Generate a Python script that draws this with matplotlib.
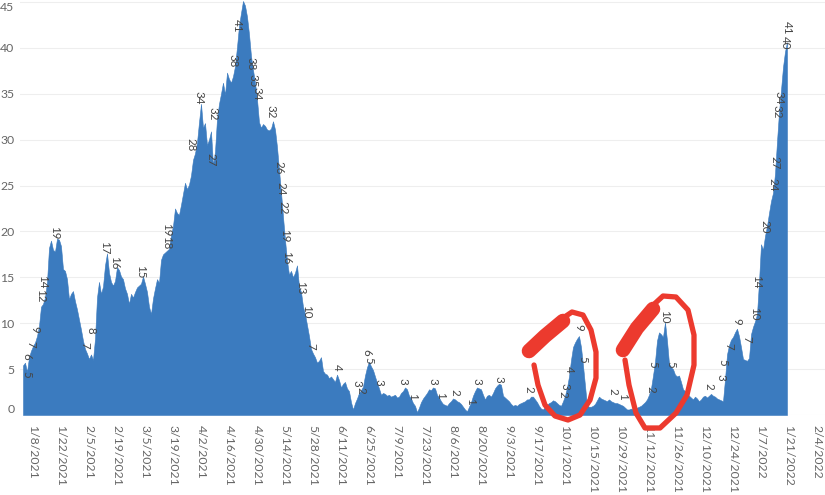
import pandas as pd
import matplotlib
matplotlib.use("Agg")
from matplotlib import pyplot as plt
from matplotlib.lines import Line2D

plt.rcParams['font.family'] = ['Lato', 'DejaVu Sans']

# daily values, 2021-01-03 .. 2022-01-20, one list per month
jan21 = [5.4, 5.7, 4.7, 6.3, 7.0, 7.5, 7.9, 8.6, 9.7, 11.8, 12.1, 12.8, 14.5, 18.2, 19.0,
         18.0, 17.8, 19.2, 19.1, 18.4, 15.9, 15.7, 14.8, 12.6, 13.2, 13.5, 12.4, 11.5, 10.4]
feb21 = [9.3, 8.1, 7.2, 6.7, 6.1, 6.6, 6.0, 8.3, 12.8, 14.5, 13.2, 14.0, 16.3, 17.6,
         15.5, 14.5, 14.1, 14.6, 16.1, 15.8, 15.1, 14.8, 13.8, 13.2, 12.1, 13.2, 12.8, 13.4]
mar21 = [13.9, 14.1, 14.3, 15.1, 14.3, 13.4, 11.8, 11.0, 12.7, 13.8, 14.8, 14.4, 16.9, 17.5,
         17.7, 17.9, 18.1, 19.6, 20.6, 22.5, 22.0, 21.8, 22.9, 24.1, 25.3, 24.6, 25.1, 26.1,
         27.8, 28.5, 29.7]
apr21 = [31.9, 33.9, 31.3, 31.8, 29.4, 30.0, 30.9, 27.2, 28.7, 32.3, 33.9, 35.0, 36.2, 34.9,
         37.3, 36.6, 36.2, 36.9, 38.0, 40.1, 42.4, 43.8, 45.1, 44.6, 43.4, 41.5, 39.1, 37.6,
         36.2, 34.4]
may21 = [31.9, 31.3, 31.7, 31.5, 31.1, 31.0, 31.2, 32.0, 31.1, 29.2, 26.7, 24.3, 21.6, 19.1,
         16.8, 15.3, 15.7, 15.0, 15.5, 16.3, 14.0, 13.4, 11.8, 11.0, 9.8, 8.6, 7.2, 6.7, 6.3,
         5.7, 5.9]
jun21 = [6.3, 4.8, 4.5, 4.4, 4.0, 4.2, 3.9, 3.6, 4.4, 3.8, 3.0, 3.4, 3.6, 2.9, 2.6, 1.4, 0.6,
         1.3, 1.8, 2.4, 2.7, 3.1, 4.3, 5.2, 5.8, 5.3, 4.9, 4.2, 3.5, 2.9]
jul21 = [2.2, 2.4, 2.3, 2.1, 2.2, 2.0, 2.1, 2.2, 1.9, 2.0, 2.4, 2.6, 3.0, 2.8, 2.1, 1.8, 1.3,
         1.0, 0.3, 0.8, 1.4, 1.8, 2.1, 2.4, 2.8, 2.7, 3.0, 2.9, 2.2, 1.9, 1.5]
aug21 = [1.2, 1.1, 1.0, 1.3, 1.5, 1.8, 1.7, 1.5, 1.4, 1.2, 0.9, 0.6, 0.4, 0.9, 1.4, 2.1, 2.6,
         3.0, 2.9, 2.8, 2.2, 1.7, 2.1, 2.2, 2.0, 2.4, 2.9, 3.2, 3.4, 3.3, 2.1]
sep21 = [1.9, 1.7, 1.5, 1.2, 1.0, 1.1, 1.0, 1.2, 1.3, 1.4, 1.5, 1.7, 1.7, 2.0, 2.0, 1.7, 1.4,
         1.0, 0.7, 0.6, 0.9, 1.1, 1.3, 1.4, 1.6, 1.5, 1.3, 1.1, 1.0, 1.5]
oct21 = [2.1, 3.0, 4.2, 6.0, 7.4, 7.9, 8.3, 8.6, 7.4, 5.4, 3.2, 1.0, 0.9, 0.9, 1.0, 1.2, 1.6,
         2.0, 1.8, 1.7, 1.6, 1.5, 1.7, 1.5, 1.4, 1.3, 1.3, 1.2, 1.1, 1.0, 0.8]
nov21 = [0.6, 0.6, 0.7, 0.6, 0.7, 0.8, 0.9, 1.0, 1.2, 1.4, 1.7, 2.2, 2.9, 4.3, 5.8, 8.1, 9.0,
         8.8, 8.5, 10.1, 8.1, 5.6, 5.2, 5.0, 4.4, 4.2, 4.3, 3.6, 2.8, 2.6]
dec21 = [2.3, 2.1, 1.9, 1.7, 2.0, 1.8, 1.5, 1.7, 2.0, 2.1, 1.9, 2.1, 2.3, 2.1, 2.0, 1.8, 1.7,
         1.6, 1.5, 3.9, 6.6, 7.6, 8.2, 8.5, 9.0, 9.4, 8.6, 7.4, 6.1, 6.0, 5.9]
jan22 = [6.2, 8.8, 9.6, 10.2, 11.0, 14.5, 18.6, 18.0, 19.5, 20.6, 22.0, 23.3, 24.2, 26.3,
         29.8, 33.0, 35.4, 37.9, 39.6, 40.6]

start_date = "2021-01-03"

# mark labels shown on the chart
label_dates = ["2021-01-05", "2021-01-05", "2021-01-07", "2021-01-09", "2021-01-12",
               "2021-01-13", "2021-01-19", "2021-02-03", "2021-02-06", "2021-02-13",
               "2021-02-18", "2021-03-03", "2021-03-16", "2021-03-16", "2021-03-28",
               "2021-04-01", "2021-04-07", "2021-04-08", "2021-04-18", "2021-04-20",
               "2021-04-27", "2021-04-28", "2021-04-30", "2021-05-07", "2021-05-11",
               "2021-05-12", "2021-05-13", "2021-05-14", "2021-05-15", "2021-05-22",
               "2021-05-25", "2021-05-27", "2021-06-09", "2021-06-19", "2021-06-21",
               "2021-06-24", "2021-06-25", "2021-06-30", "2021-07-12", "2021-07-17",
               "2021-07-27", "2021-07-31", "2021-08-07", "2021-08-15", "2021-08-18",
               "2021-08-29", "2021-09-13", "2021-09-30", "2021-10-01", "2021-10-03",
               "2021-10-08", "2021-10-10", "2021-10-25", "2021-10-30", "2021-11-13",
               "2021-11-14", "2021-11-20", "2021-11-23", "2021-12-12", "2021-12-18",
               "2021-12-19", "2021-12-22", "2021-12-26", "2021-12-31", "2022-01-04",
               "2022-01-05", "2022-01-09", "2022-01-13", "2022-01-14", "2022-01-15",
               "2022-01-16", "2022-01-19", "2022-01-20"]
label_levels = [4.4, 6.4, 7.7, 9.3, 13.0, 14.5, 19.8, 7.6, 9.2, 18.2,
                16.6, 15.6, 20.2, 18.8, 29.4, 34.6, 27.8, 32.8, 38.6, 42.4,
                38.3, 36.4, 35.0, 33.0, 26.9, 24.7, 22.6, 19.5, 17.1, 13.9,
                11.2, 7.5, 5.2, 3.4, 2.7, 6.8, 6.0, 3.5, 3.7, 2.0,
                3.7, 2.1, 2.5, 1.5, 3.7, 3.9, 2.8, 2.3, 3.1, 5.0,
                9.5, 6.1, 2.6, 2.0, 2.8, 5.5, 10.7, 5.5, 3.1, 4.1,
                5.7, 7.5, 10.2, 8.2, 11.0, 14.5, 20.5, 25.1, 27.5, 33.0,
                34.6, 40.6, 42.2]
label_texts = ["5", "6", "7", "9", "12", "14", "19", "7", "8", "17",
               "16", "15", "19", "18", "28", "34", "27", "32", "38", "41",
               "38", "35", "34", "32", "26", "24", "22", "19", "16", "13",
               "10", "7", "4", "3", "2", "6", "5", "3", "3", "1",
               "3", "1", "2", "1", "3", "3", "2", "2", "3", "4",
               "9", "5", "2", "1", "2", "5", "10", "5", "2", "3",
               "5", "7", "9", "7", "10", "14", "20", "24", "27", "32",
               "34", "40", "41"]

# hand drawn red marks on the screenshot (pixel coords)
red_thick = [[(529, 351), (545, 336), (563, 321)],
             [(623, 350), (637, 328), (653, 309)]]
red_loops = [[(560, 320), (572, 312), (583, 315), (591, 330), (596, 352), (596, 378),
              (590, 400), (580, 415), (568, 420), (555, 416), (545, 405), (538, 385), (534, 365)],
             [(650, 308), (663, 296), (676, 297), (688, 310), (694, 335), (694, 365),
              (687, 395), (676, 413), (660, 428), (645, 428), (636, 413), (629, 385), (625, 360)]]

values = jan21 + feb21 + mar21 + apr21 + may21 + jun21 + jul21 + aug21 + sep21 + oct21 + nov21 + dec21 + jan22
dates = pd.date_range(start_date, periods=len(values), freq="D")

W, H = 825, 495
fig = plt.figure(figsize=(W / 100, H / 100), dpi=100)
ax = fig.add_axes([20 / W, 80 / H, 805 / W, 414 / H])

blue = "#3b7bbf"
ax.fill_between(dates, values, 0, color=blue, lw=0.4, edgecolor=blue, zorder=2)

for d, lv, t in zip(label_dates, label_levels, label_texts):
    ax.text(pd.Timestamp(d), lv, t, rotation=-90, ha="center", va="center",
            fontsize=8.3, color="#454545", zorder=3)

t0 = pd.Timestamp(start_date)
ax.set_xlim(t0 - pd.Timedelta(days=1.5), t0 + pd.Timedelta(days=401))
ax.set_ylim(0, 45.1)

ax.set_yticks(range(0, 50, 5))
ax.tick_params(axis="y", length=0, pad=4, labelsize=8.8, labelcolor="#666666")
ylabels = ax.get_yticklabels()
ylabels[0].set_va("bottom")
ylabels[-1].set_va("top")
ax.grid(axis="y", color="#eeeeee", lw=0.8, zorder=0)
ax.set_axisbelow(True)

xt = pd.date_range("2021-01-08", "2022-02-04", freq="14D")
ax.set_xticks(xt)
ax.set_xticklabels([f"{d.month}/{d.day}/{d.year}" for d in xt], rotation=-90,
                   ha="center", va="top")
ax.tick_params(axis="x", length=0, pad=7, labelsize=8.8, labelcolor="#666666")

for s in ax.spines.values():
    s.set_visible(False)

red = "#ec3a2e"
for pts in red_thick:
    fig.add_artist(Line2D([p[0] / W for p in pts], [1 - p[1] / H for p in pts],
                          transform=fig.transFigure, color=red, lw=10.5,
                          solid_capstyle="round", solid_joinstyle="round", zorder=5))
for pts in red_loops:
    fig.add_artist(Line2D([p[0] / W for p in pts], [1 - p[1] / H for p in pts],
                          transform=fig.transFigure, color=red, lw=3.8,
                          solid_capstyle="round", solid_joinstyle="round", zorder=5))

fig.savefig("out.png", dpi=100)
